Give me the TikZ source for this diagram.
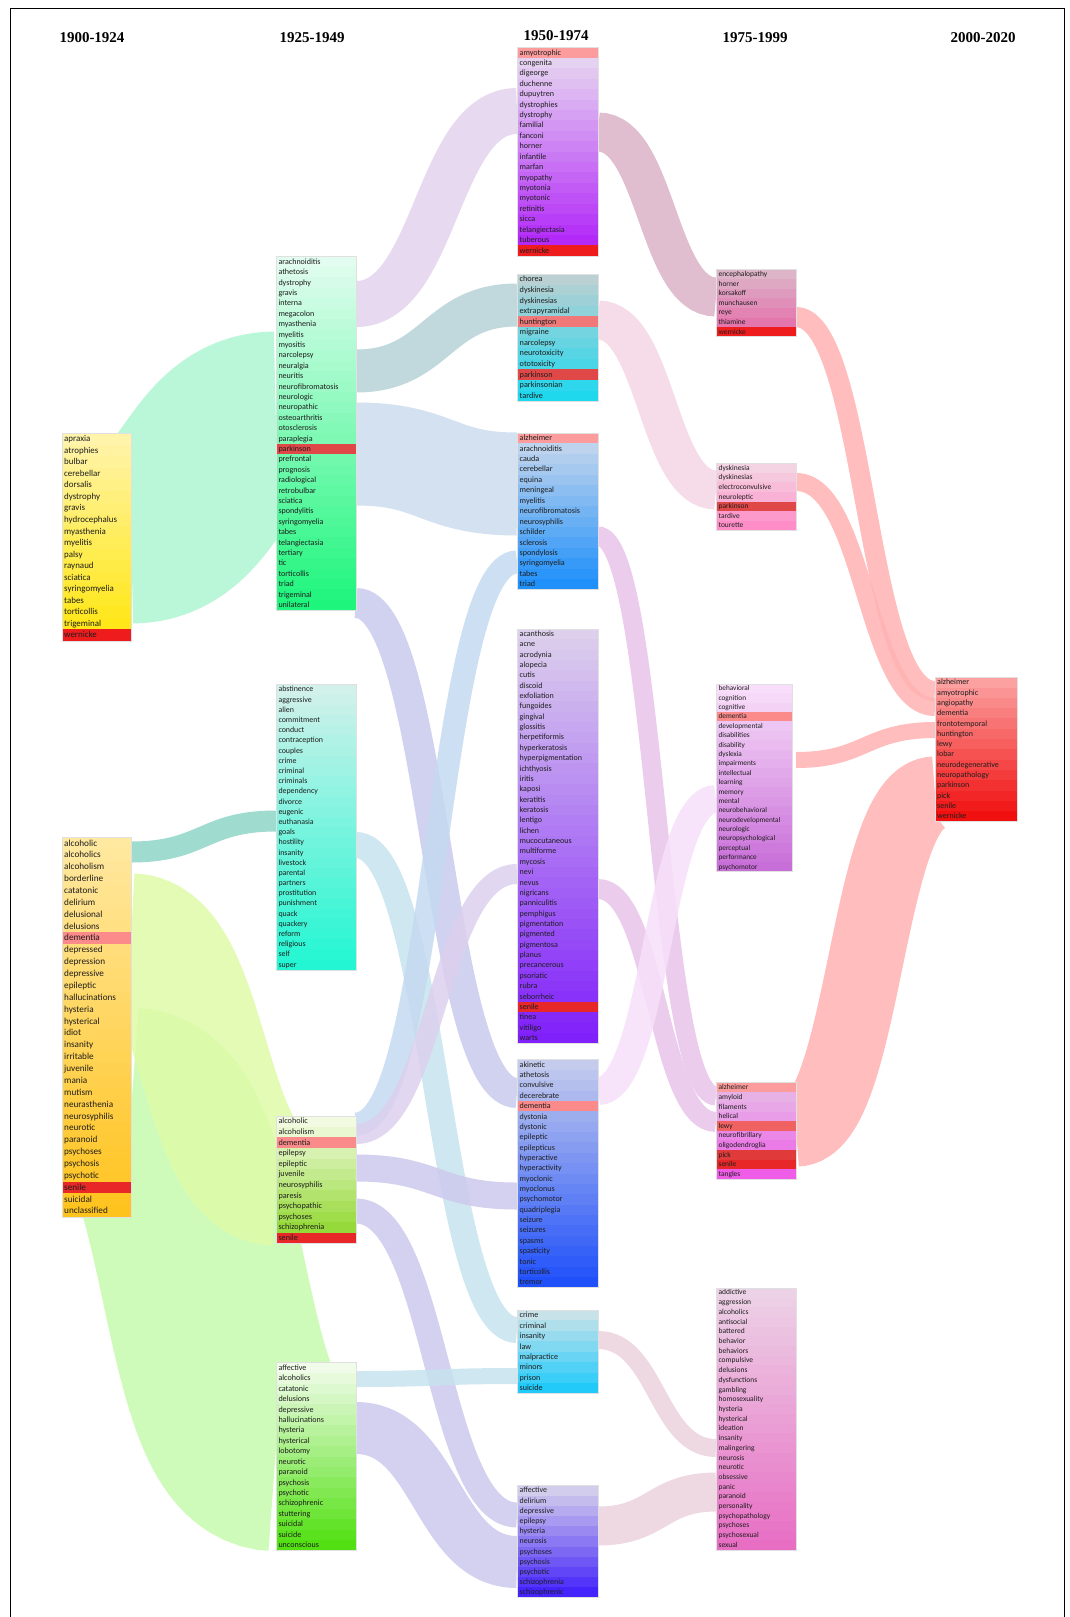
\documentclass[tikz,border=0pt]{standalone}
\usepackage{fontspec}
\setmainfont{Liberation Serif}
\newfontfamily\lblfont{Carlito}
\usetikzlibrary{calc}
% band colours
\definecolor{bMint}{HTML}{AEF5D2}
\definecolor{bTeal}{HTML}{8FD5C6}
\definecolor{bYG}{HTML}{DFFBA8}
\definecolor{bGreen}{HTML}{C6FBAE}
\definecolor{bLav}{HTML}{E3D3EE}
\definecolor{bGT}{HTML}{B7D3D6}
\definecolor{bLB}{HTML}{CDDCEE}
\definecolor{bLavB}{HTML}{C9CBEE}
\definecolor{bCy}{HTML}{C6E3EE}
\definecolor{bLBb}{HTML}{C5DAF0}
\definecolor{bLavb}{HTML}{DCD0EE}
\definecolor{bLavc}{HTML}{CDCAEE}
\definecolor{bMauve}{HTML}{DBB3C7}
\definecolor{bPinkL}{HTML}{F4D7E5}
\definecolor{bPP}{HTML}{E8C4EA}
\definecolor{bVLP}{HTML}{F7E0FA}
\definecolor{bPG}{HTML}{ECD3DF}
\definecolor{bSal}{HTML}{FFB2B2}
% highlight colours
\definecolor{hRed}{HTML}{EE1C1C}
\definecolor{hSal}{HTML}{FB8A8A}
\definecolor{hRedb}{HTML}{E82828}
\definecolor{hPark}{HTML}{E04848}
\definecolor{hSalb}{HTML}{FC9C9C}
\definecolor{hHunt}{HTML}{F07878}
\definecolor{hLewy}{HTML}{F06262}
\definecolor{hPick}{HTML}{E03A3A}
% gradient colours
\definecolor{gAa}{HTML}{FFF4AA}\definecolor{gAb}{HTML}{FFE610}
\definecolor{gBa}{HTML}{FFE8A0}\definecolor{gBb}{HTML}{FFC31E}
\definecolor{gCa}{HTML}{E2FDF0}\definecolor{gCb}{HTML}{1EF57C}
\definecolor{gDa}{HTML}{D2F1EB}\definecolor{gDb}{HTML}{22F6D2}
\definecolor{gEa}{HTML}{F2FBE2}\definecolor{gEb}{HTML}{8CD62A}
\definecolor{gFa}{HTML}{F0FCE9}\definecolor{gFb}{HTML}{52E012}
\definecolor{gGa}{HTML}{E8DCF0}\definecolor{gGb}{HTML}{B020F8}
\definecolor{gHa}{HTML}{BAD0D2}\definecolor{gHb}{HTML}{20D8EE}
\definecolor{gIa}{HTML}{CAD8EC}\definecolor{gIb}{HTML}{2090FA}
\definecolor{gJa}{HTML}{DCD0EC}\definecolor{gJb}{HTML}{8020FA}
\definecolor{gKa}{HTML}{C4CBEC}\definecolor{gKb}{HTML}{2050FA}
\definecolor{gLa}{HTML}{C8E2EA}\definecolor{gLb}{HTML}{22CAFA}
\definecolor{gMa}{HTML}{D2CDEC}\definecolor{gMb}{HTML}{4424FA}
\definecolor{gNa}{HTML}{DDB4C8}\definecolor{gNb}{HTML}{E46AA8}
\definecolor{gOa}{HTML}{F4D4E2}\definecolor{gOb}{HTML}{FF8EC8}
\definecolor{gPa}{HTML}{F8DEFA}\definecolor{gPb}{HTML}{C86ED8}
\definecolor{gQa}{HTML}{E6BCE6}\definecolor{gQb}{HTML}{EE5CE8}
\definecolor{gRa}{HTML}{ECD2E6}\definecolor{gRb}{HTML}{E86EC4}
\definecolor{gSa}{HTML}{FCA0A0}\definecolor{gSb}{HTML}{F01010}
\definecolor{txtc}{HTML}{1E1E1E}
\def\gflag{g}
\newcounter{bnd}
\newcommand\band[6]{%
  \stepcounter{bnd}%
  \coordinate (bs\thebnd) at (#3,#4);
  \coordinate (be\thebnd) at (#5,#6);
  \pgfmathsetmacro\xm{(#3+#5)/2}%
  \draw[flow, draw=#1, line width=#2pt] (bs\thebnd) .. controls (\xm,#4) and (\xm,#6) .. (be\thebnd);
}
\newcommand\tbox[8]{%
  \foreach \lab/\cc [count=\n] in {#8} {\xdef\nrows{\n}}%
  \pgfmathsetmacro\fsz{0.775*#5}%
  \foreach \lab/\cc [count=\i from 0] in {#8} {%
    \pgfmathsetmacro\pp{100*\i/(\nrows-1)}%
    \ifx\cc\gflag\colorlet{rowc}{#7!\pp!#6}\else\colorlet{rowc}{\cc}\fi
    \fill[rowc] (#2,{#3+\i*#5}) rectangle ({#2+#4},{#3+(\i+1)*#5});
    \node[lab] (#1-\i) at ({#2+2},{#3+(\i+0.5)*#5+0.3*\fsz}) {\lab};
  }%
  \draw[boxline] (#2,#3) rectangle ({#2+#4},{#3+\nrows*#5});
}
\begin{document}
\begin{tikzpicture}[x=1pt,y=-1pt,
  flow/.style={opacity=0.85, line cap=butt},
  lab/.style={anchor=base west, inner sep=0pt, text=txtc, font=\lblfont\fontsize{\fsz}{\fsz}\selectfont},
  boxline/.style={draw=black!12, line width=0.5pt},
  title/.style={font=\bfseries\fontsize{15}{15}\selectfont, text=black, inner sep=0pt}]
\useasboundingbox (0,0) rectangle (1070,1617);
\fill[white] (0,0) rectangle (1070,1617);
% ---------- flows col1 -> col2
\band{bGreen}{206}{131}{1111}{276}{1448}
\band{bYG}{131}{131}{939}{276}{1180}
\band{bMint}{191}{131}{528}{276}{427}
\band{bTeal}{21}{131}{852}{276}{821}
% ---------- flows col2 -> col3
\band{bLav}{46}{356}{304}{517}{111}
\band{bGT}{43}{356}{371}{517}{305}
\band{bLB}{103}{356}{454}{517}{484}
\band{bLavB}{30}{356}{603}{517}{1093}
\band{bCy}{26}{356}{845}{517}{1330}
\band{bLBb}{23}{356}{1124}{517}{562}
\band{bLavb}{20}{356}{1134}{517}{874}
\band{bLavc}{27}{356}{1168}{517}{1196}
\band{bLavc}{25}{356}{1211}{517}{1515}
\band{bCy}{16}{356}{1379}{517}{1376}
\band{bLavc}{52}{356}{1428}{517}{1562}
% ---------- flows col3 -> col4
\band{bMauve}{39}{598}{132}{716}{297}
\band{bPinkL}{39}{598}{320}{716}{490}
\band{bPP}{19}{598}{536}{716}{1096}
\band{bPP}{20}{598}{889}{716}{1122}
\band{bVLP}{28}{598}{1091}{716}{799}
\band{bPG}{18}{598}{1340}{716}{1448}
\band{bPG}{39}{598}{1526}{716}{1492}
% ---------- flows col4 -> col5
\band{bSal}{20}{796}{317}{935}{691}
\band{bSal}{18}{796}{482}{935}{707}
\band{bSal}{16}{796}{760}{935}{730}
\band{bSal}{75}{796}{1129}{935}{794}
% ---------- boxes column 1
\tbox{c1a}{62}{433.4}{69}{11.52}{gAa}{gAb}{apraxia/g,atrophies/g,bulbar/g,cerebellar/g,dorsalis/g,dystrophy/g,gravis/g,hydrocephalus/g,myasthenia/g,myelitis/g,palsy/g,raynaud/g,sciatica/g,syringomyelia/g,tabes/g,torticollis/g,trigeminal/g,wernicke/hRed}
\tbox{c1b}{62}{837.3}{69}{11.87}{gBa}{gBb}{alcoholic/g,alcoholics/g,alcoholism/g,borderline/g,catatonic/g,delirium/g,delusional/g,delusions/g,dementia/hSal,depressed/g,depression/g,depressive/g,epileptic/g,hallucinations/g,hysteria/g,hysterical/g,idiot/g,insanity/g,irritable/g,juvenile/g,mania/g,mutism/g,neurasthenia/g,neurosyphilis/g,neurotic/g,paranoid/g,psychoses/g,psychosis/g,psychotic/g,senile/hRedb,suicidal/g,unclassified/g}
% ---------- column 2
\tbox{c2a}{276.3}{256.6}{79.5}{10.40}{gCa}{gCb}{arachnoiditis/g,athetosis/g,dystrophy/g,gravis/g,interna/g,megacolon/g,myasthenia/g,myelitis/g,myositis/g,narcolepsy/g,neuralgia/g,neuritis/g,neurofibromatosis/g,neurologic/g,neuropathic/g,osteoarthritis/g,otosclerosis/g,paraplegia/g,parkinson/hPark,prefrontal/g,prognosis/g,radiological/g,retrobulbar/g,sciatica/g,spondylitis/g,syringomyelia/g,tabes/g,telangiectasia/g,tertiary/g,tic/g,torticollis/g,triad/g,trigeminal/g,unilateral/g}
\tbox{c2b}{276.3}{684.5}{79.5}{10.19}{gDa}{gDb}{abstinence/g,aggressive/g,alien/g,commitment/g,conduct/g,contraception/g,couples/g,crime/g,criminal/g,criminals/g,dependency/g,divorce/g,eugenic/g,euthanasia/g,goals/g,hostility/g,insanity/g,livestock/g,parental/g,partners/g,prostitution/g,punishment/g,quack/g,quackery/g,reform/g,religious/g,self/g,super/g}
\tbox{c2c}{276.3}{1116.2}{79.5}{10.59}{gEa}{gEb}{alcoholic/g,alcoholism/g,dementia/hSal,epilepsy/g,epileptic/g,juvenile/g,neurosyphilis/g,paresis/g,psychopathic/g,psychoses/g,schizophrenia/g,senile/hRedb}
\tbox{c2d}{276.3}{1362.7}{79.5}{10.43}{gFa}{gFb}{affective/g,alcoholics/g,catatonic/g,delusions/g,depressive/g,hallucinations/g,hysteria/g,hysterical/g,lobotomy/g,neurotic/g,paranoid/g,psychosis/g,psychotic/g,schizophrenic/g,stuttering/g,suicidal/g,suicide/g,unconscious/g}
% ---------- column 3
\tbox{c3a}{517.5}{47.4}{80.5}{10.42}{gGa}{gGb}{amyotrophic/hSalb,congenita/g,digeorge/g,duchenne/g,dupuytren/g,dystrophies/g,dystrophy/g,familial/g,fanconi/g,horner/g,infantile/g,marfan/g,myopathy/g,myotonia/g,myotonic/g,retinitis/g,sicca/g,telangiectasia/g,tuberous/g,wernicke/hRed}
\tbox{c3b}{517.5}{274.1}{80.5}{10.59}{gHa}{gHb}{chorea/g,dyskinesia/g,dyskinesias/g,extrapyramidal/g,huntington/hHunt,migraine/g,narcolepsy/g,neurotoxicity/g,ototoxicity/g,parkinson/hPark,parkinsonian/g,tardive/g}
\tbox{c3c}{517.5}{432.9}{80.5}{10.45}{gIa}{gIb}{alzheimer/hSalb,arachnoiditis/g,cauda/g,cerebellar/g,equina/g,meningeal/g,myelitis/g,neurofibromatosis/g,neurosyphilis/g,schilder/g,sclerosis/g,spondylosis/g,syringomyelia/g,tabes/g,triad/g}
\tbox{c3d}{517.5}{628.8}{80.5}{10.36}{gJa}{gJb}{acanthosis/g,acne/g,acrodynia/g,alopecia/g,cutis/g,discoid/g,exfoliation/g,fungoides/g,gingival/g,glossitis/g,herpetiformis/g,hyperkeratosis/g,hyperpigmentation/g,ichthyosis/g,iritis/g,kaposi/g,keratitis/g,keratosis/g,lentigo/g,lichen/g,mucocutaneous/g,multiforme/g,mycosis/g,nevi/g,nevus/g,nigricans/g,panniculitis/g,pemphigus/g,pigmentation/g,pigmented/g,pigmentosa/g,planus/g,precancerous/g,psoriatic/g,rubra/g,seborrheic/g,senile/hRedb,tinea/g,vitiligo/g,warts/g}
\tbox{c3e}{517.5}{1059.6}{80.5}{10.36}{gKa}{gKb}{akinetic/g,athetosis/g,convulsive/g,decerebrate/g,dementia/hSal,dystonia/g,dystonic/g,epileptic/g,epilepticus/g,hyperactive/g,hyperactivity/g,myoclonic/g,myoclonus/g,psychomotor/g,quadriplegia/g,seizure/g,seizures/g,spasms/g,spasticity/g,tonic/g,torticollis/g,tremor/g}
\tbox{c3f}{517.5}{1310}{80.5}{10.45}{gLa}{gLb}{crime/g,criminal/g,insanity/g,law/g,malpractice/g,minors/g,prison/g,suicide/g}
\tbox{c3g}{517.5}{1485.4}{80.5}{10.2}{gMa}{gMb}{affective/g,delirium/g,depressive/g,epilepsy/g,hysteria/g,neurosis/g,psychoses/g,psychosis/g,psychotic/g,schizophrenia/g,schizophrenic/g}
% ---------- column 4
\tbox{c4a}{716.4}{269.4}{79.4}{9.62}{gNa}{gNb}{encephalopathy/g,horner/g,korsakoff/g,munchausen/g,reye/g,thiamine/g,wernicke/hRed}
\tbox{c4b}{716.4}{463.2}{79.4}{9.62}{gOa}{gOb}{dyskinesia/g,dyskinesias/g,electroconvulsive/g,neuroleptic/g,parkinson/hPark,tardive/g,tourette/g}
\tbox{c4c}{716.4}{683.9}{76.3}{9.385}{gPa}{gPb}{behavioral/g,cognition/g,cognitive/g,dementia/hSal,developmental/g,disabilities/g,disability/g,dyslexia/g,impairments/g,intellectual/g,learning/g,memory/g,mental/g,neurobehavioral/g,neurodevelopmental/g,neurologic/g,neuropsychological/g,perceptual/g,performance/g,psychomotor/g}
\tbox{c4d}{716.4}{1082.7}{79.4}{9.62}{gQa}{gQb}{alzheimer/hSalb,amyloid/g,filaments/g,helical/g,lewy/hLewy,neurofibrillary/g,oligodendroglia/g,pick/hPick,senile/hRedb,tangles/g}
\tbox{c4e}{716.4}{1287.8}{79.4}{9.71}{gRa}{gRb}{addictive/g,aggression/g,alcoholics/g,antisocial/g,battered/g,behavior/g,behaviors/g,compulsive/g,delusions/g,dysfunctions/g,gambling/g,homosexuality/g,hysteria/g,hysterical/g,ideation/g,insanity/g,malingering/g,neurosis/g,neurotic/g,obsessive/g,panic/g,paranoid/g,personality/g,psychopathology/g,psychoses/g,psychosexual/g,sexual/g}
% ---------- column 5
\tbox{c5}{935}{677.2}{82.4}{10.31}{gSa}{gSb}{alzheimer/g,amyotrophic/g,angiopathy/g,dementia/g,frontotemporal/g,huntington/g,lewy/g,lobar/g,neurodegenerative/g,neuropathology/g,parkinson/g,pick/g,senile/g,wernicke/g}
% ---------- titles
\node[title] (t1) at (92,38) {1900-1924};
\node[title] (t2) at (312,38) {1925-1949};
\node[title] (t3) at (556,36) {1950-1974};
\node[title] (t4) at (755,38) {1975-1999};
\node[title] (t5) at (983,38) {2000-2020};
% ---------- frame
\draw[black, line width=0.8pt] (10.3,1617) -- (10.3,8.2) -- (1064.7,8.2) -- (1064.7,1617);
\end{tikzpicture}
\end{document}
